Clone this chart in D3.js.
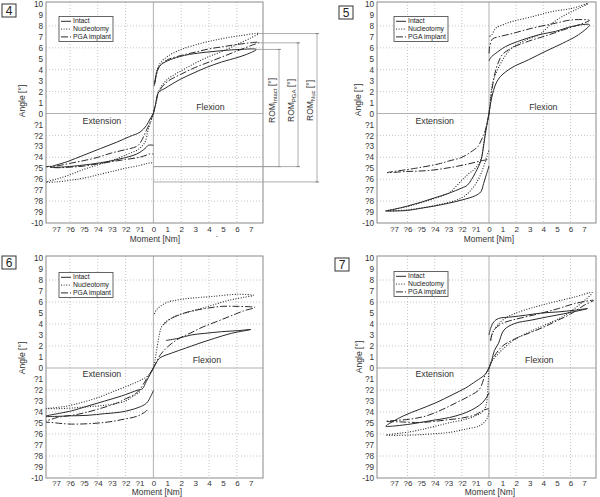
<!DOCTYPE html>
<html><head><meta charset="utf-8">
<script src="https://cdn.jsdelivr.net/npm/d3@7"></script>
<style>
html,body{margin:0;padding:0;background:#fff;}
svg{display:block;font-family:"Liberation Sans",Arial,sans-serif;}
</style></head>
<body>
<svg id="chart" width="600" height="497"></svg>
<script>
// ---------- DATA ----------
const seriesNames = ["Intact", "Nucleotomy", "PGA implant"];
const xTickValues = [-7,-6,-5,-4,-3,-2,-1,0,1,2,3,4,5,6,7];
const xTickLabels = ["?7","?6","?5","?4","?3","?2","?1","0","1","2","3","4","5","6","7"];
const yTickValues = [10,9,8,7,6,5,4,3,2,1,0,-1,-2,-3,-4,-5,-6,-7,-8,-9,-10];
const yTickLabels = ["10","9","8","7","6","5","4","3","2","1","0","?1","?2","?3","?4","?5","?6","?7","?8","?9","-10"];
const panelLabels = ["4","5","6","7"];

// [moment Nm, angle deg]; null separates flexion and extension loops
const p4Intact = [[0,0],[0.15,0.8],[0.36,1.9],[0.84,2.3],[1.9,3.1],[2.9,3.7],[3.8,4.2],[4.9,4.7],[6,5.1],[6.7,5.4],[7.4,5.85],
  [6.2,5.85],[5,5.75],[3.8,5.6],[2.6,5.4],[1.9,5.2],[1,4.8],[0.5,4.4],[0.3,4.0],[0.07,2.6],null,
  [0,0],[-0.24,-0.5],[-0.5,-1.1],[-0.96,-1.7],[-1.7,-2.1],[-2.6,-2.6],[-3.8,-3.2],[-5.0,-3.8],[-6.2,-4.4],[-7.4,-4.9],
  [-6.7,-4.9],[-5.3,-4.75],[-3.8,-4.5],[-2.4,-4.15],[-1.2,-3.7],[-0.6,-3.2],[-0.36,-2.9],[0,-2.9]];
const p4Nuc = [[0,0],[0.2,1.0],[0.4,2.1],[1,3.1],[2,3.9],[3,4.6],[4,5.2],[5,5.7],[6,6.3],[7,6.9],[7.55,7.3],
  [6.2,7.1],[4.8,6.8],[3.4,6.4],[1.9,5.8],[1,5.2],[0.5,4.6],[0.24,3.9],[0.1,2.7],null,
  [0,0],[-0.2,-0.8],[-0.4,-1.6],[-0.6,-2.6],[-1,-3.2],[-2,-3.8],[-3,-4.3],[-4,-4.7],[-5,-5.1],[-6,-5.6],[-7,-6.0],[-7.7,-6.25],
  [-7,-6.25],[-6,-6.1],[-5,-5.9],[-4,-5.6],[-3,-5.3],[-2,-5.0],[-1,-4.75],[-0.4,-4.55],[-0.05,-4.5]];
const p4PGA = [[0,0],[0.15,0.8],[0.4,2.0],[1,2.9],[2,3.6],[3,4.2],[4,4.7],[5,5.2],[6,5.7],[7,6.2],[7.6,6.5],
  [6,6.3],[5,6.1],[4,5.9],[3,5.6],[2,5.3],[1,4.9],[0.5,4.4],[0.3,3.9],[0.05,2.5],null,
  [0,0],[-0.3,-1.0],[-0.6,-1.8],[-0.9,-2.6],[-1.2,-3.0],[-2,-3.3],[-3,-3.6],[-4,-4.0],[-5,-4.3],[-6,-4.55],[-7,-4.8],[-7.7,-4.85],
  [-7,-4.95],[-6,-4.9],[-5,-4.8],[-4,-4.6],[-3,-4.4],[-2,-4.2],[-1,-4.0],[-0.5,-3.8],[-0.3,-3.7],[0,-3.7]];

const p5Intact = [[0,0],[0.2,1.45],[0.5,2.7],[0.86,3.4],[1.7,4.2],[2.9,4.9],[4.2,5.7],[5.4,6.4],[6.6,7.2],[7.4,8.1],
  [6.1,7.95],[4.9,7.5],[3.7,7.2],[2.4,6.7],[1.2,6.1],[0.5,5.5],[0.12,5.1],[0,4.8],null,
  [0,0],[-0.15,-1.0],[-0.3,-2.1],[-0.45,-3.4],[-0.6,-4.3],[-1.0,-5.4],[-1.6,-6.55],[-2,-6.8],[-3,-7.3],[-4,-7.7],[-5,-8.1],[-6,-8.45],[-7,-8.75],[-7.6,-8.9],
  [-7,-8.9],[-6,-8.85],[-5,-8.65],[-4,-8.45],[-3,-8.2],[-2,-7.9],[-1,-7.5],[-0.6,-7.15],[-0.4,-6.4],[-0.2,-5.6],[0,-4.8]];
const p5Nuc = [[0,0],[0.1,1.2],[0.25,2.7],[0.6,3.9],[1.1,5.1],[1.7,6.0],[2.7,6.7],[3.7,7.2],[4.6,8.2],[5.6,9.0],[6.6,9.6],[7.3,10.05],
  [6.1,9.6],[4.6,9.3],[3.2,8.85],[1.7,8.4],[1,8.1],[0.5,7.8],[0.2,7.2],[0,7.0],null,
  [0,0],[-0.2,-1.3],[-0.4,-2.8],[-0.6,-4.2],[-1,-5.0],[-1.5,-5.5],[-2,-6.1],[-2.7,-7.0],[-3,-7.3],[-4,-7.75],[-5,-8.15],[-6,-8.5],[-7,-8.75],[-7.6,-8.9],
  [-6,-8.8],[-4,-8.4],[-2,-7.7],[-1.2,-6.8],[-0.7,-5.8],[-0.3,-4.5],[0,-3.3]];
const p5PGA = [[0,0],[0.1,1.0],[0.2,2.0],[0.4,3.5],[0.7,4.7],[1,5.4],[1.7,6.0],[2.9,6.6],[4.2,7.1],[5.4,7.6],[6.6,8.1],[7.4,8.5],
  [6.1,8.55],[4.9,8.25],[3.2,7.8],[1.7,7.3],[0.7,7.0],[0.25,6.8],[0.05,6.1],[0,5.4],null,
  [0,0],[-0.2,-1.2],[-0.4,-2.0],[-0.6,-2.5],[-0.8,-3.0],[-1.2,-3.4],[-2,-4.0],[-3,-4.35],[-3.7,-4.6],[-5.4,-5.0],[-7.5,-5.4],
  [-6.1,-5.3],[-4.4,-5.2],[-2.7,-4.9],[-1.5,-4.6],[-0.5,-4.3],[0,-4.2]];

const p6Intact = [[0,0],[0.2,0.45],[0.45,0.9],[1.3,1.35],[2.3,1.8],[3.2,2.2],[4.4,2.7],[5.6,3.15],[7,3.5],
  [6.1,3.4],[4.9,3.3],[3.7,3.15],[2.7,3.0],[1.8,2.7],[0.9,2.5],null,
  [0,0],[-0.2,-0.5],[-0.5,-1.2],[-0.8,-1.9],[-1.1,-2.0],[-2.3,-2.55],[-3.5,-3.0],[-4.7,-3.45],[-5.9,-3.9],[-7.8,-4.4],
  [-7,-4.4],[-6,-4.35],[-4.7,-4.3],[-3.5,-4.15],[-2.3,-4.0],[-1.1,-3.6],[-0.5,-3.2],[-0.2,-2.6],[0,-2.05]];
const p6Nuc = [[0,0],[0.1,0.6],[0.2,1.35],[0.4,2.85],[0.6,3.75],[1.05,4.35],[1.8,4.8],[3,5.25],[4.2,5.7],[5.4,6.15],[6.6,6.45],[7.2,6.6],
  [6.1,6.7],[4.2,6.5],[2.7,6.35],[1.8,6.2],[1.05,6.0],[0.6,5.7],[0.2,5.25],[0.05,4.8],null,
  [0,0],[-0.3,-0.6],[-0.6,-0.9],[-1.6,-1.5],[-2.8,-2.1],[-4,-2.7],[-5.2,-3.15],[-6.4,-3.5],[-7.8,-3.7],
  [-7,-3.7],[-6,-3.65],[-5,-3.55],[-4,-3.45],[-3,-3.3],[-2,-3.0],[-1.5,-2.6],[-0.9,-2.1]];
const p6PGA = [[0,0],[0.2,0.5],[0.5,1.2],[1,1.9],[1.5,2.4],[2,2.8],[2.7,3.2],[3.5,3.7],[4.5,4.2],[5.5,4.7],[6.5,5.2],[7.3,5.5],
  [6.1,5.6],[4.9,5.6],[3.7,5.4],[2.5,5.1],[1.5,4.65],[0.95,4.2],[0.7,3.9],null,
  [0,0],[-0.5,-1.0],[-1,-2.0],[-1.35,-2.4],[-2,-2.8],[-2.55,-3.15],[-4,-3.75],[-5.4,-4.2],[-6.9,-4.5],[-7.8,-4.9],
  [-7.35,-4.95],[-5.9,-5.1],[-3.5,-4.95],[-2.1,-4.65],[-1.1,-4.35],[-0.5,-3.9],[-0.4,-3.75]];

const p7Intact = [[0,0],[0.2,0.7],[0.4,1.6],[0.7,2.25],[1.1,3.45],[1.9,4.05],[3.1,4.35],[4.3,4.65],[5.6,4.95],[7.25,5.4],
  [6.3,5.25],[5.1,5.1],[3.9,5.0],[2.7,4.8],[1.7,4.65],[0.7,4.5],[0.36,4.2],[0.12,3.6],[0,3.0],null,
  [0,0],[-0.3,-0.6],[-0.6,-0.9],[-0.97,-1.2],[-1.7,-1.8],[-2.65,-2.4],[-3.9,-3.15],[-5.1,-3.75],[-6.3,-4.35],[-7.6,-5.3],
  [-7.25,-5.3],[-5.8,-5.1],[-4.35,-4.8],[-2.9,-4.5],[-1.7,-4.05],[-0.97,-3.6],[-0.48,-3.15],[-0.12,-2.55],[0,-2.25]];
const p7Nuc = [[0,0],[0.2,0.6],[0.5,1.05],[1,1.7],[1.9,2.6],[3.1,3.35],[4.3,4.0],[5.6,4.8],[6.8,5.9],[7.6,6.85],
  [6.3,6.45],[4.8,6.0],[3.4,5.55],[1.9,4.95],[1,4.35],[0.36,3.45],[0.12,2.55],null,
  [0,0],[-0.05,-1.0],[-0.1,-2.2],[-0.2,-3.3],[-0.4,-3.9],[-1,-4.35],[-1.7,-4.65],[-3,-5.0],[-4.3,-5.4],[-5.8,-5.8],[-7.6,-6.1],
  [-5.8,-6.1],[-4.3,-6.0],[-2.9,-5.85],[-1.7,-5.55],[-0.7,-5.25],[-0.25,-4.8],[-0.05,-4.3],[0,-3.7]];
const p7PGA = [[0,0],[0.2,0.6],[0.4,1.1],[1,2.0],[2,2.7],[3,3.2],[4,3.7],[5,4.3],[6,4.9],[7,5.7],[7.7,6.15],
  [6.3,5.85],[5.1,5.4],[3.9,5.0],[2.7,4.65],[1.7,4.35],[0.97,4.05],[0.48,3.6],[0.2,3.0],[0.12,2.4],null,
  [0,0],[-0.3,-0.7],[-0.72,-1.95],[-1.45,-2.55],[-2.4,-3.15],[-3.4,-3.75],[-4.6,-4.35],[-5.8,-4.65],[-7.6,-4.85],
  [-6.5,-4.9],[-5,-4.95],[-4,-4.85],[-3,-4.7],[-2,-4.55],[-1,-4.25],[-0.5,-3.9],[-0.2,-3.75],[0,-3.7]];

// ROM annotation values for panel 4 (max, min angle)
const romIntact = [5.85, -4.85];
const romPGA = [6.45, -4.85];
const romNuc = [7.3, -6.25];

// ---------- LAYOUT ----------
const svg = d3.select("#chart");
const ink = "#333";
const dashes = ["", "1,1.6", "7,2,1.5,2"];
const legendWidths = [null, 36, 38];

const panels = [
  {label:panelLabels[0], series:[p4Intact,p4Nuc,p4PGA], xr:[46,263], xd:[-7.72,7.88], yr:[223,4],
   box:[2,4], leg:[59,16.5], ext:[-3.7,-0.75], flex:[4.1,0.5], ytitle:[23,101], xtitle:[155,240], tickY:229.5},
  {label:panelLabels[1], series:[p5Intact,p5Nuc,p5PGA], xr:[377,596], xd:[-8.25,7.88], yr:[223,4],
   box:[339,6], leg:[394,16.5], ext:[-4.0,-0.75], flex:[4.0,0.5], ytitle:[359,100], xtitle:[489,240], tickY:229.5},
  {label:panelLabels[2], series:[p6Intact,p6Nuc,p6PGA], xr:[46,263], xd:[-7.72,7.88], yr:[478,258],
   box:[2,256], leg:[59,272.5], ext:[-3.7,-0.6], flex:[3.85,0.66], ytitle:[23,358], xtitle:[157,493], tickY:483.5},
  {label:panelLabels[3], series:[p7Intact,p7Nuc,p7PGA], xr:[377,596], xd:[-8.25,7.88], yr:[478,258],
   box:[335,258], leg:[394,271.5], ext:[-4.0,-0.6], flex:[3.7,0.66], ytitle:[360,357], xtitle:[490,493], tickY:483.5}
];

const defs = svg.append("defs");

panels.forEach((p, i) => {
  const x = d3.scaleLinear().domain(p.xd).range(p.xr);
  const y = d3.scaleLinear().domain([-10,10]).range(p.yr);
  const g = svg.append("g");
  const [x0,x1] = p.xr, [yb,yt] = p.yr;
  const ft = yt - 2; // frame top slightly above 10

  defs.append("clipPath").attr("id","clip"+i).append("rect")
    .attr("x",x0).attr("y",ft).attr("width",x1-x0).attr("height",yb-ft);

  // grid
  [-6,-4,-2,2,4,6].forEach(v => g.append("line").attr("x1",x(v)).attr("x2",x(v)).attr("y1",ft).attr("y2",yb)
     .attr("stroke","#b8b8b8").attr("stroke-width",0.8).attr("stroke-dasharray","1,2"));
  [-8,-6,-4,-2,2,4,6,8].forEach(v => g.append("line").attr("y1",y(v)).attr("y2",y(v)).attr("x1",x0).attr("x2",x1)
     .attr("stroke","#b8b8b8").attr("stroke-width",0.8).attr("stroke-dasharray","1,2"));
  g.append("line").attr("x1",x(0)).attr("x2",x(0)).attr("y1",ft).attr("y2",yb).attr("stroke","#a8a8a8").attr("stroke-width",0.9);
  g.append("line").attr("y1",y(0)).attr("y2",y(0)).attr("x1",x0).attr("x2",x1).attr("stroke","#a8a8a8").attr("stroke-width",0.9);

  // frame
  g.append("rect").attr("x",x0).attr("y",ft).attr("width",x1-x0).attr("height",yb-ft)
    .attr("fill","none").attr("stroke","#8a8a8a").attr("stroke-width",1);

  // axes
  const xAxis = d3.axisBottom(x).tickValues(xTickValues).tickSize(0)
    .tickFormat((d,k) => xTickLabels[k]);
  const ax = g.append("g").attr("transform",`translate(0,${yb})`).call(xAxis);
  ax.select(".domain").remove();
  ax.selectAll("text").attr("y", p.tickY - yb).attr("dy",null).attr("dominant-baseline","middle")
    .attr("font-size",8).attr("fill",ink).attr("font-family","Liberation Sans, Arial, sans-serif");
  const yAxis = d3.axisLeft(y).tickValues(yTickValues).tickSize(0)
    .tickFormat((d,k) => yTickLabels[k]);
  const ay = g.append("g").attr("transform",`translate(${x0},0)`).call(yAxis);
  ay.select(".domain").remove();
  ay.selectAll("text").attr("x",-3).attr("font-size",8.2).attr("fill",ink)
    .attr("font-family","Liberation Sans, Arial, sans-serif");

  // titles
  g.append("text").attr("transform",`translate(${p.ytitle[0]},${p.ytitle[1]}) rotate(-90)`)
    .attr("text-anchor","middle").attr("dominant-baseline","middle").attr("font-size",8.6).attr("fill",ink).text("Angle [°]");
  g.append("text").attr("x",p.xtitle[0]).attr("y",p.xtitle[1]).attr("text-anchor","middle")
    .attr("dominant-baseline","middle").attr("font-size",8.4).attr("fill",ink).text("Moment [Nm]");

  // region labels
  g.append("text").attr("x",x(p.ext[0])).attr("y",y(p.ext[1])).attr("text-anchor","middle")
    .attr("dominant-baseline","middle").attr("font-size",8.8).attr("fill",ink).text("Extension");
  g.append("text").attr("x",x(p.flex[0])).attr("y",y(p.flex[1])).attr("text-anchor","middle")
    .attr("dominant-baseline","middle").attr("font-size",8.8).attr("fill",ink).text("Flexion");

  // curves
  const line = d3.line().defined(d => d !== null).x(d => x(d[0])).y(d => y(d[1]))
    .curve(d3.curveCatmullRom.alpha(0.5));
  const cg = g.append("g").attr("clip-path",`url(#clip${i})`);
  p.series.forEach((s, k) => {
    cg.append("path").attr("d", line(s)).attr("fill","none").attr("stroke","#2a2a2a")
      .attr("stroke-width", k===1 ? 1.1 : 1).attr("stroke-dasharray", dashes[k]);
  });

  // legend
  const lg = g.append("g").attr("transform",`translate(${p.leg[0]},${p.leg[1]})`);
  lg.append("rect").attr("width",54).attr("height",25).attr("fill","#fff").attr("stroke","#555").attr("stroke-width",0.9);
  seriesNames.forEach((n, k) => {
    const yy = 4.8 + k*7.8;
    lg.append("line").attr("x1",2).attr("x2",12).attr("y1",yy).attr("y2",yy).attr("stroke","#2a2a2a")
      .attr("stroke-width",1).attr("stroke-dasharray",dashes[k]);
    const t = lg.append("text").attr("x",14).attr("y",yy).attr("dominant-baseline","middle")
      .attr("font-size",6.8).attr("fill","#222").text(n);
    if (legendWidths[k]) t.attr("textLength",legendWidths[k]).attr("lengthAdjust","spacingAndGlyphs");
  });

  // panel number box
  const bg = g.append("g").attr("transform",`translate(${p.box[0]},${p.box[1]})`);
  bg.append("rect").attr("width",14).attr("height",13).attr("fill","#fff").attr("stroke","#333").attr("stroke-width",1);
  bg.append("text").attr("x",7).attr("y",7).attr("text-anchor","middle").attr("dominant-baseline","central")
    .attr("font-size",12).attr("fill","#222").text(p.label);

  // ROM annotations on panel 4
  if (i === 0) {
    const ann = g.append("g").attr("stroke","#999").attr("stroke-width",0.8);
    const roms = [
      {v:romIntact, xv:279, xs:7.35, sub:"Intact"},
      {v:romPGA, xv:298, xs:7.55, sub:"PGA"},
      {v:romNuc, xv:317, xs:7.5, sub:"Nuc"}
    ];
    roms.forEach(r => {
      ann.append("line").attr("x1",x(r.xs)).attr("x2",r.xv+2).attr("y1",y(r.v[0])).attr("y2",y(r.v[0]));
      ann.append("line").attr("x1",x(0)).attr("x2",r.xv+2).attr("y1",y(r.v[1])).attr("y2",y(r.v[1]));
      ann.append("line").attr("x1",r.xv).attr("x2",r.xv).attr("y1",y(r.v[0])).attr("y2",y(r.v[1]));
      [r.v[0], r.v[1]].forEach(v => ann.append("line").attr("x1",r.xv-1.5).attr("x2",r.xv+1.5)
         .attr("y1",y(v)).attr("y2",y(v)).attr("stroke","#777"));
      const t = g.append("text").attr("transform",`translate(${r.xv-6},${y(0)-13}) rotate(-90)`)
        .attr("text-anchor","middle").attr("dominant-baseline","middle").attr("font-size",8.5).attr("fill",ink);
      t.append("tspan").text("ROM");
      t.append("tspan").attr("font-size",6).attr("dy",2).text(r.sub);
      t.append("tspan").attr("dy",-2).text(" [°]");
    });
    g.append("text").attr("x",217).attr("y",238).attr("font-size",7).attr("fill","#666").attr("text-anchor","middle").text("-");
  }
});
</script>
</body></html>
